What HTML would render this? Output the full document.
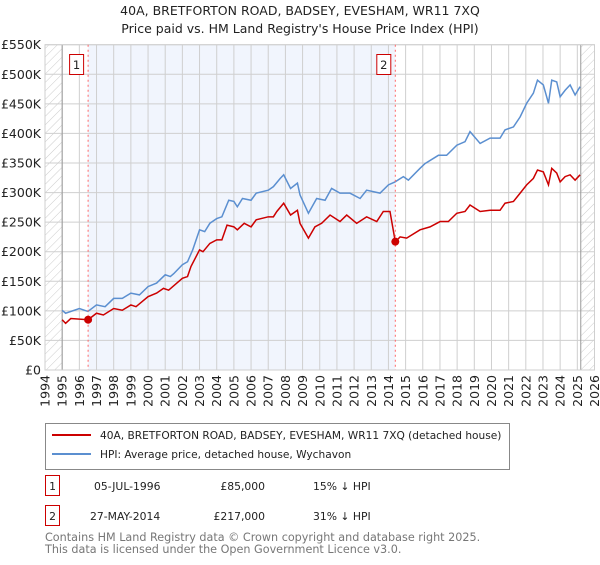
<!DOCTYPE html>
<html><head><meta charset="utf-8"><style>
body{margin:0;background:#fff;font-family:"Liberation Sans","DejaVu Sans",sans-serif;}
svg text{font-family:"DejaVu Sans","Liberation Sans",sans-serif;}
</style></head><body>
<svg id="c" width="600" height="560" xmlns="http://www.w3.org/2000/svg">
<defs><pattern id="h" width="6" height="6" patternUnits="userSpaceOnUse" patternTransform="rotate(45)"><line x1="0" y1="0" x2="0" y2="6" stroke="#ccc" stroke-width="1"/></pattern></defs>
<text x="300" y="15" text-anchor="middle" font-size="12.5" fill="#222">40A, BRETFORTON ROAD, BADSEY, EVESHAM, WR11 7XQ</text>
<text x="300" y="33" text-anchor="middle" font-size="12.5" fill="#222">Price paid vs. HM Land Registry's House Price Index (HPI)</text>
<g id="plot"></g>
<g>
<rect x="45.5" y="423.5" width="464" height="46" fill="#fff" stroke="#888"/>
<line x1="52" y1="435" x2="91" y2="435" stroke="#cc0000" stroke-width="2"/>
<text x="100" y="439" font-size="10.6" fill="#222">40A, BRETFORTON ROAD, BADSEY, EVESHAM, WR11 7XQ (detached house)</text>
<line x1="52" y1="454" x2="91" y2="454" stroke="#5b8fd0" stroke-width="2"/>
<text x="100" y="458" font-size="10.6" fill="#222">HPI: Average price, detached house, Wychavon</text>
</g>
<g font-size="10.8" fill="#222">
<rect x="45.5" y="475.5" width="14" height="20" fill="#fff" stroke="#cc0000"/><text x="52.5" y="490" text-anchor="middle">1</text>
<text x="94" y="490">05-JUL-1996</text><text x="265" y="490" text-anchor="end">£85,000</text><text x="313" y="490">15% ↓ HPI</text>
<rect x="45.5" y="505.5" width="14" height="20" fill="#fff" stroke="#cc0000"/><text x="52.5" y="520" text-anchor="middle">2</text>
<text x="90" y="520">27-MAY-2014</text><text x="265" y="520" text-anchor="end">£217,000</text><text x="313" y="520">31% ↓ HPI</text>
</g>
<text x="45" y="541" font-size="11.2" fill="#777">Contains HM Land Registry data © Crown copyright and database right 2025.</text>
<text x="45" y="553" font-size="11.2" fill="#777">This data is licensed under the Open Government Licence v3.0.</text>
</svg>
<script>
const yTicks=[0,50,100,150,200,250,300,350,400,450,500,550];
const yTickLabels=["£0","£50K","£100K","£150K","£200K","£250K","£300K","£350K","£400K","£450K","£500K","£550K"];
const xYears=[1994,1995,1996,1997,1998,1999,2000,2001,2002,2003,2004,2005,2006,2007,2008,2009,2010,2011,2012,2013,2014,2015,2016,2017,2018,2019,2020,2021,2022,2023,2024,2025,2026];
const hpiYears=[1995.0,1995.2,1996,1996.5,1997,1997.5,1998,1998.5,1999,1999.5,2000,2000.5,2001,2001.3,2001.5,2002,2002.3,2002.6,2003,2003.3,2003.6,2004,2004.3,2004.7,2005,2005.2,2005.5,2006,2006.3,2007,2007.3,2007.7,2007.9,2008.3,2008.7,2008.85,2009.34,2009.82,2010.31,2010.69,2011.18,2011.76,2012.35,2012.73,2013.51,2014.0,2014.38,2014.87,2015.16,2015.84,2016.13,2016.91,2017.39,2017.98,2018.46,2018.75,2019.34,2019.92,2020.5,2020.79,2021.28,2021.67,2022.05,2022.44,2022.68,2023.02,2023.32,2023.51,2023.8,2024.0,2024.29,2024.58,2024.87,2025.16];
const hpiValues=[101,96,104,99,110,107,121,121,130,127,141,147,161,158,163,178,183,203,237,234,248,256,259,287,285,276,290,287,299,304,310,324,330,307,316,296,265,290,287,307,299,299,290,304,299,313,318,327,321,341,349,363,363,380,386,403,383,392,392,406,411,428,451,468,490,482,451,490,487,462,473,482,465,479];
const ppYears=[1995.0,1995.2,1995.5,1996.51,1997,1997.4,1998,1998.5,1999,1999.3,2000,2000.5,2000.9,2001.2,2002,2002.3,2002.5,2003,2003.2,2003.6,2004,2004.3,2004.6,2005,2005.2,2005.6,2006,2006.3,2007,2007.3,2007.5,2007.9,2008.3,2008.7,2008.85,2009.34,2009.72,2010.11,2010.6,2011.18,2011.57,2012.15,2012.73,2013.32,2013.7,2014.09,2014.38,2014.4,2014.68,2015.06,2015.84,2016.42,2017.01,2017.49,2017.98,2018.46,2018.75,2019.34,2019.92,2020.5,2020.79,2021.28,2021.67,2022.05,2022.44,2022.68,2023.02,2023.32,2023.51,2023.8,2024.0,2024.29,2024.58,2024.87,2025.16];
const ppValues=[85,79,87,85,96,93,104,101,110,107,124,130,138,135,155,158,175,203,200,214,220,220,245,242,237,248,242,254,259,259,268,282,262,270,248,223,242,248,262,251,262,248,259,251,268,268,220,217,225,223,237,242,251,251,265,268,279,268,270,270,282,285,299,313,324,338,335,313,341,333,318,327,330,321,330];
const sales=[{n:"1",year:1996.51,value:85},{n:"2",year:2014.4,value:217}];
const L=45,R=594.5,T=44.7,B=370,Y0=1994,Y1=2026,VMAX=550;
const xs=y=>L+(y-Y0)*(R-L)/(Y1-Y0);
const ys=v=>B-v*(B-T)/VMAX;
const NS="http://www.w3.org/2000/svg";
const g=document.getElementById('plot');
function mk(t,a,p){const e=document.createElementNS(NS,t);for(const k in a)e.setAttribute(k,a[k]);(p||g).appendChild(e);return e;}
mk('rect',{x:xs(sales[0].year),y:T,width:xs(sales[1].year)-xs(sales[0].year),height:B-T,fill:'#eef3fd',opacity:0.8});
mk('rect',{x:L,y:T,width:xs(1995)-L,height:B-T,fill:'url(#h)'});
mk('rect',{x:xs(2025.2),y:T,width:R-xs(2025.2),height:B-T,fill:'url(#h)'});
yTicks.forEach((v,i)=>{
  mk('line',{x1:L,x2:R,y1:ys(v),y2:ys(v),stroke:'#cfcfcf','stroke-width':1});
  const t=mk('text',{x:L-4,y:ys(v)+4.5,'text-anchor':'end','font-size':12.5,fill:'#222'});
  t.textContent=yTickLabels[i];
  
  
});
xYears.forEach(yr=>{
  mk('line',{x1:xs(yr),x2:xs(yr),y1:T,y2:B,stroke:'#cfcfcf','stroke-width':1});
  const t=mk('text',{x:0,y:0,transform:`translate(${xs(yr)+4.5},${B+5}) rotate(-90)`,'text-anchor':'end','font-size':12.5,fill:'#222'});
  t.textContent=yr;
  
  
});
mk('line',{x1:xs(1995),x2:xs(1995),y1:T,y2:B,stroke:'#999','stroke-width':1});
mk('line',{x1:xs(2025.2),x2:xs(2025.2),y1:T,y2:B,stroke:'#999','stroke-width':1});
mk('rect',{x:L,y:T,width:R-L,height:B-T,fill:'none',stroke:'#cfcfcf'});
const hp=mk('polyline',{points:hpiYears.map((y,i)=>xs(y)+','+ys(hpiValues[i])).join(' '),fill:'none',stroke:'#5b8fd0','stroke-width':1.5});


const pp=mk('polyline',{points:ppYears.map((y,i)=>xs(y)+','+ys(ppValues[i])).join(' '),fill:'none',stroke:'#cc0000','stroke-width':1.5});


sales.forEach(s=>{
  mk('line',{x1:xs(s.year),x2:xs(s.year),y1:T,y2:B,stroke:'#ff6666','stroke-width':1,'stroke-dasharray':'2,3'});
  const c=mk('circle',{cx:xs(s.year),cy:ys(s.value),r:4,fill:'#cc0000'});
  
  
  const bx=xs(s.year)-19;
  const r=mk('rect',{x:bx+0.5,y:54.5,width:14,height:20,fill:'#fff',stroke:'#cc0000'});
  
  
  const t=mk('text',{x:bx+7.5,y:69,'text-anchor':'middle','font-size':11.5,fill:'#222'});
  t.textContent=s.n;
});
</script>
</body></html>
